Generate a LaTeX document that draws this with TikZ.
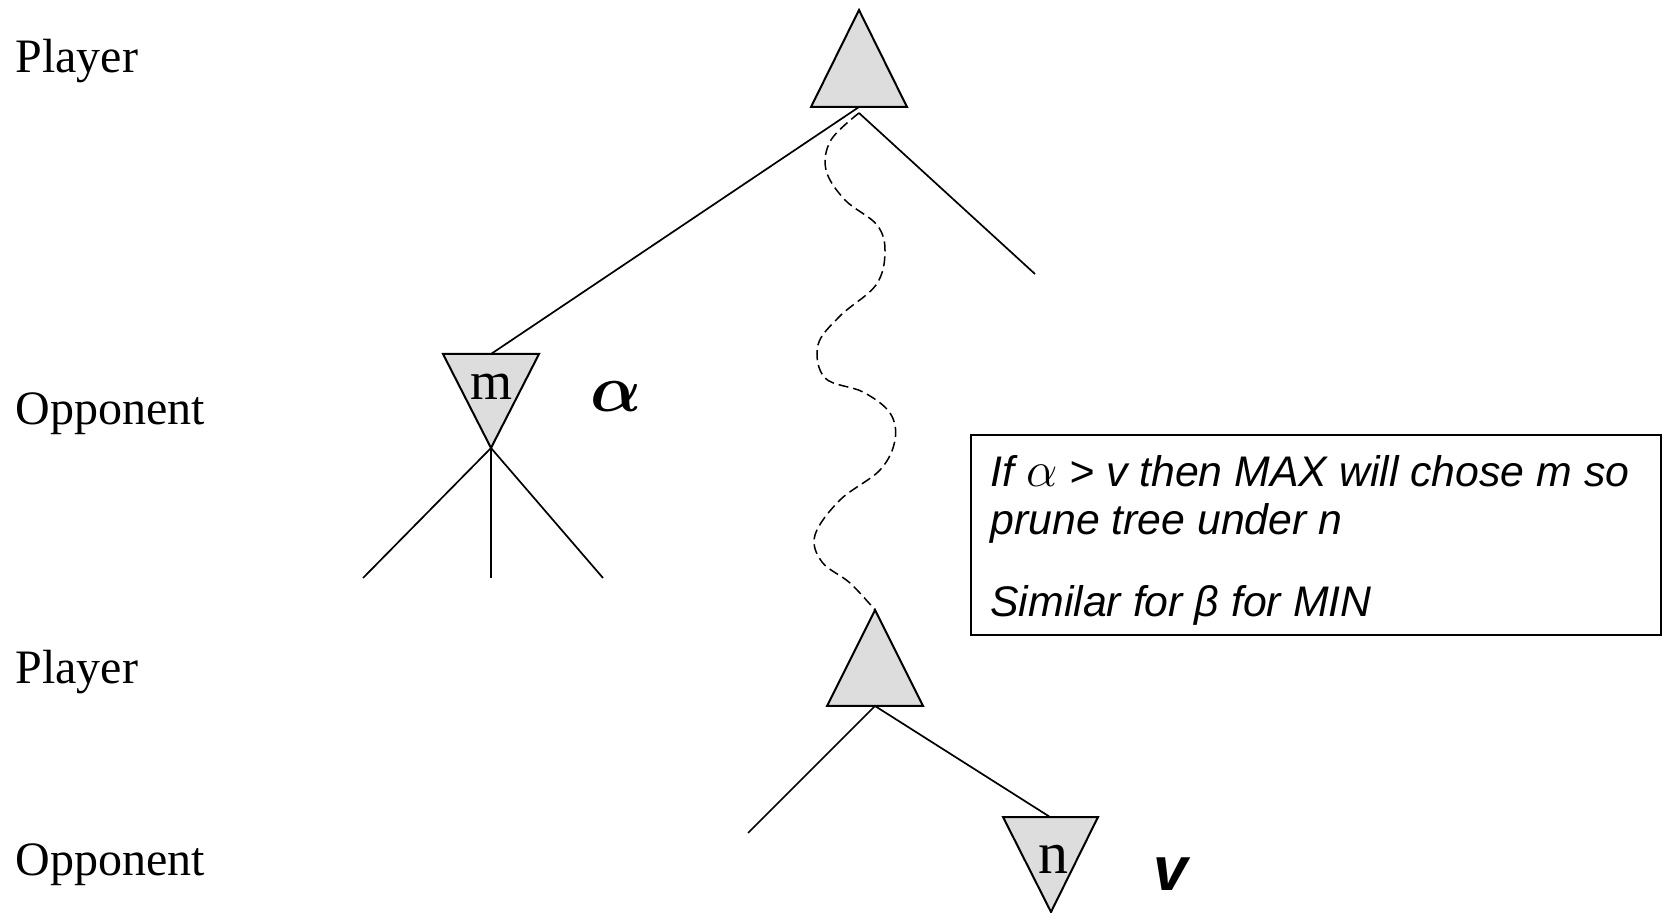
\documentclass[tikz,border=0pt]{standalone}
\usepackage{bm}
\usepackage{graphicx}
\usepackage{fontspec}
\setmainfont{Liberation Serif}
\newfontfamily\sansf{Liberation Sans}
\definecolor{trifill}{RGB}{221,221,221}
\newcommand{\bigalpha}{\scalebox{1.35}{$\bm{\alpha}$}}
\begin{document}
\begin{tikzpicture}[x=0.5pt,y=-0.5pt,
  tri/.style={draw=black, fill=trifill, line width=1pt, line join=miter},
  branch/.style={draw=black, line width=0.85pt},
  wave/.style={draw=black, line width=0.75pt, dash pattern=on 5pt off 2.5pt},
  level/.style={anchor=base west, inner sep=0pt, font=\fontsize{24}{28}\selectfont},
  tag/.style={anchor=base, inner sep=0pt},
  notebox/.style={draw=black, line width=1pt, minimum width=345pt, minimum height=100pt, anchor=north west, inner sep=0pt},
  noteline/.style={anchor=base west, inner sep=0pt, font=\sansf\itshape\fontsize{21.4}{25}\selectfont}]
\useasboundingbox (0,0) rectangle (1670,913);

% level labels
\node[level] (pl1) at (15,73) {Player};
\node[level] (op1) at (15,425) {Opponent};
\node[level] (pl2) at (15,683) {Player};
\node[level] (op2) at (15,875) {Opponent};

% top MAX node
\draw[tri] (811,107) -- (859,10) -- (907,107) -- cycle;
\coordinate (root) at (859,107);
\coordinate (rootb) at (859,113);
\coordinate (rchild) at (1035,274);

% MIN node m
\draw[tri] (443,354) -- (539,354) -- (491,448) -- cycle;
\coordinate (mtop) at (491,354);
\coordinate (mbot) at (491,448);
\coordinate (ml) at (363,578);
\coordinate (mm) at (491,578);
\coordinate (mr) at (603,578);
\node[tag, font=\fontsize{27}{30}\selectfont] (mlab) at (491,400) {m};
\node[tag, font=\fontsize{34}{40}\selectfont] (alpha) at (616,412) {\bigalpha};

% second MAX node
\draw[tri] (827,706) -- (875,610) -- (923,706) -- cycle;
\coordinate (p2top) at (875,610);
\coordinate (p2) at (875,706);
\coordinate (p2l) at (748,833);

% MIN node n
\draw[tri] (1003,817) -- (1098,817) -- (1051,912) -- cycle;
\coordinate (ntop) at (1050,817);
\node[tag, font=\fontsize{30}{34}\selectfont] (nlab) at (1053,873) {n};
\node[tag, font=\sansf\bfseries\itshape\fontsize{31}{36}\selectfont] (vlab) at (1171,890) {v};

% branches
\draw[branch] (root) -- (mtop);
\draw[branch] (rootb) -- (rchild);
\draw[branch] (mbot) -- (ml);
\draw[branch] (mbot) -- (mm);
\draw[branch] (mbot) -- (mr);
\draw[branch] (p2) -- (p2l);
\draw[branch] (p2) -- (ntop);

% wavy path
\draw[wave] plot[smooth, tension=0.6] coordinates {(rootb) (831,140) (826,170) (845,200) (877,225) (885,252) (876,285) (840,316) (818,345) (825,378) (863,392) (890,413) (895,440) (880,470) (840,500) (815,535) (822,562) (850,583) (p2top)};

% note box
\node[notebox] (note) at (970,434) {};
\node[noteline] (t1) at (990,487) {If {\fontsize{24}{25}\selectfont$\alpha$} > v then MAX will chose m so};
\node[noteline] (t2) at (990,535) {prune tree under n};
\node[noteline] (t3) at (990,617) {Similar for β for MIN};
\end{tikzpicture}
\end{document}
